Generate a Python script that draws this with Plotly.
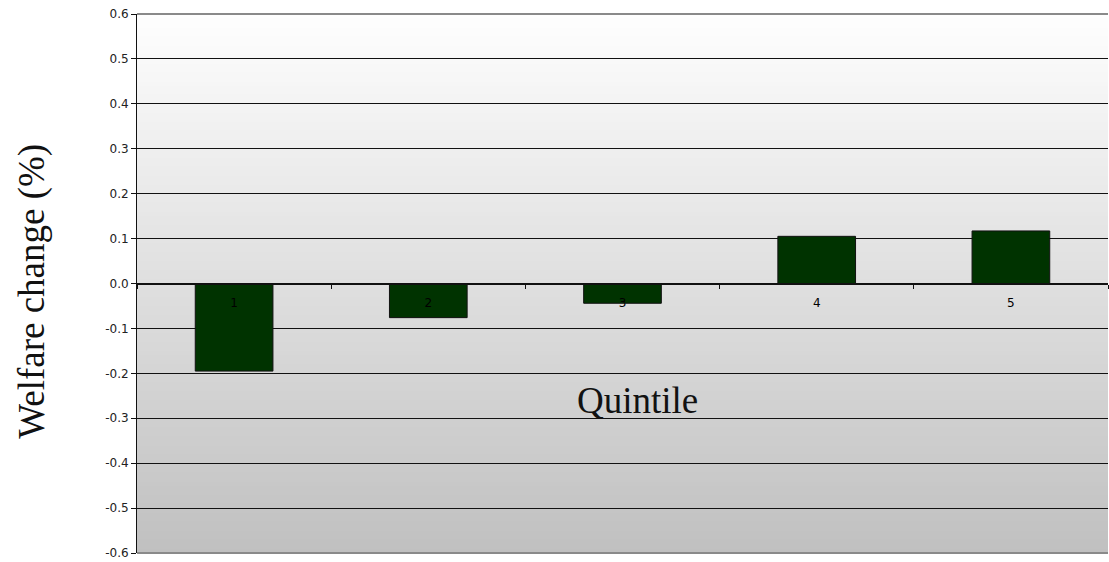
import plotly.graph_objects as go

# Welfare change by income quintile
quintiles = ["1", "2", "3", "4", "5"]
welfare_change = [-0.195, -0.076, -0.044, 0.105, 0.117]

y_tick_values = [0.6, 0.5, 0.4, 0.3, 0.2, 0.1, 0.0, -0.1, -0.2, -0.3, -0.4, -0.5, -0.6]
y_tick_labels = ["0.6", "0.5", "0.4", "0.3", "0.2", "0.1", "0.0",
                 "-0.1", "-0.2", "-0.3", "-0.4", "-0.5", "-0.6"]

serif = "Times New Roman, Liberation Serif, serif"
sans = "DejaVu Sans, Arial, sans-serif"

fig = go.Figure()
fig.add_trace(go.Bar(
    x=quintiles,
    y=welfare_change,
    width=0.4,
    marker=dict(color="#003300", line=dict(color="#111111", width=1)),
    showlegend=False,
))

# vertical grey gradient behind the plot area
n_bands = 120
top_rgb = 254
bottom_rgb = 192
shapes = []
for i in range(n_bands):
    f0 = i / n_bands
    f1 = (i + 1) / n_bands
    c = round(bottom_rgb + (top_rgb - bottom_rgb) * (f0 + f1) / 2)
    shapes.append(dict(
        type="rect", xref="paper", yref="paper",
        x0=0, x1=1, y0=f0, y1=f1 + 0.002,
        fillcolor=f"rgb({c},{c},{c})", line=dict(width=0), layer="below",
    ))
# grey edges at top and bottom of plot area
for yv in (0, 1):
    shapes.append(dict(
        type="line", xref="paper", yref="paper",
        x0=0, x1=1, y0=yv, y1=yv,
        line=dict(color="#8a8a8a", width=2), layer="above",
    ))

annotations = [
    dict(text="Quintile", xref="paper", yref="paper", x=0.5155, y=0.283,
         xanchor="center", yanchor="middle", showarrow=False,
         font=dict(family=serif, size=37, color="#111111")),
    dict(text="Welfare change (%)", xref="paper", yref="paper", x=-0.109, y=0.485,
         xanchor="center", yanchor="middle", textangle=-90, showarrow=False,
         font=dict(family=serif, size=37, color="#111111")),
]

fig.update_layout(
    width=1109, height=562,
    margin=dict(l=137, r=1, t=14, b=9, autoexpand=False),
    paper_bgcolor="white",
    plot_bgcolor="rgba(0,0,0,0)",
    shapes=shapes,
    annotations=annotations,
    bargap=0.6,
    xaxis=dict(
        type="category",
        anchor="free", position=0.5,
        automargin=False,
        showline=True, linecolor="#111111", linewidth=1,
        ticks="outside", tickson="boundaries", ticklen=4, tickcolor="#111111",
        ticklabelstandoff=8,
        tickfont=dict(family=sans, size=12, color="#000000"),
        showgrid=False,
        layer="above traces",
    ),
    yaxis=dict(
        range=[-0.6, 0.6],
        automargin=False,
        tickvals=y_tick_values, ticktext=y_tick_labels,
        ticklabeloverflow="allow",
        showline=True, linecolor="#111111", linewidth=1,
        ticks="outside", ticklen=5, tickcolor="#111111",
        tickfont=dict(family=sans, size=12, color="#222222"),
        showgrid=True, gridcolor="#111111", gridwidth=1,
        zeroline=True, zerolinecolor="#111111", zerolinewidth=1,
    ),
)

fig.write_html("out.html")
